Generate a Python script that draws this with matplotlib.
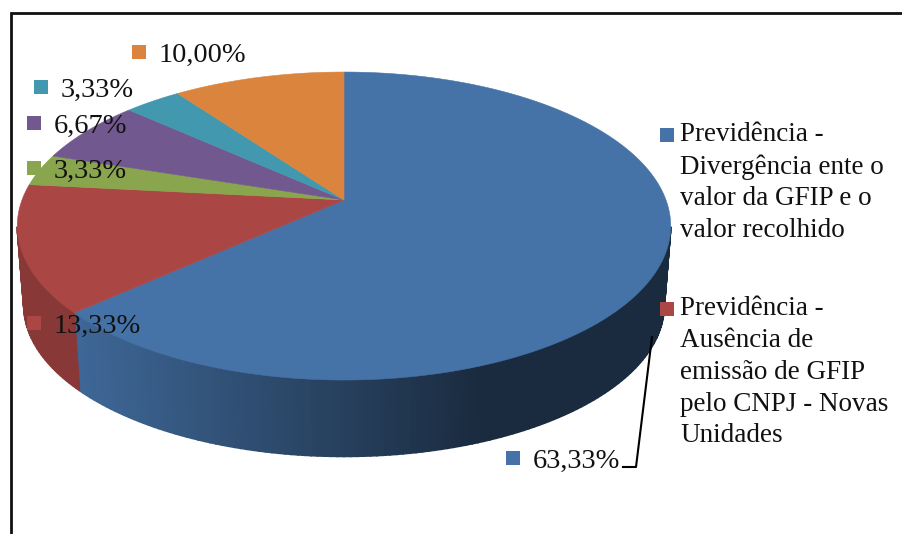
import numpy as np
import matplotlib
matplotlib.use('Agg')
import matplotlib.pyplot as plt

plt.rcParams['font.family'] = ['Liberation Serif', 'DejaVu Serif']

values = [63.33, 13.33, 3.33, 6.67, 3.33, 10.00]
colors = ['#4572A7', '#AA4643', '#89A54E', '#71588F', '#4198AF', '#DB843D']
labelMarks = [(513, 458), (34, 323), (34, 168), (34, 123), (41, 87), (139, 52)]
legendNames = ['Previdência -\nDivergência ente o\nvalor da GFIP e o\nvalor recolhido',
               'Previdência -\nAusência de\nemissão de GFIP\npelo CNPJ - Novas\nUnidades']
legendMarks = [(667, 135), (667, 309)]

# pie geometry in pixels, the tilt is a small perspective term
apexX, apexY = 344, 200
radX, radY, tilt = 322, 149.6, 0.169
depth, shrink = 80, 0.98


def rim(angle, scale=1.0, drop=0):
    t = np.radians(angle)
    d = 1 + tilt * np.cos(t)
    return (apexX + scale * radX * np.sin(t) / d,
            apexY + drop - scale * radY * np.cos(t) / d)


def wallColor(base, x):
    # side gets darker going right, flat dark after a point
    rgb = np.array(matplotlib.colors.to_rgb(base))
    if base == colors[1]:
        return rgb * 0.8
    f = 0.9 - 0.52 * np.clip((x - 78) / 400, 0, 1)
    return rgb * f


fig = plt.figure(figsize=(9.02, 5.34), dpi=100)
ax = fig.add_axes([0, 0, 1, 1])
ax.set_xlim(0, 902)
ax.set_ylim(534, 0)
ax.axis('off')

edges = np.concatenate([[0], np.cumsum(values) / np.sum(values) * 360])

# side wall, only the front half shows
for i in range(len(values)):
    a0, a1 = max(edges[i], 100), min(edges[i + 1], 260)
    if a1 <= a0:
        continue
    steps = np.arange(a0, a1 + 1, 1)
    for s0, s1 in zip(steps[:-1], steps[1:]):
        s1 = min(s1, a1)
        x0, y0 = rim(s0)
        x1, y1 = rim(s1)
        x2, y2 = rim(s1, shrink, depth)
        x3, y3 = rim(s0, shrink, depth)
        c = wallColor(colors[i], (x0 + x1) / 2)
        ax.fill([x0, x1, x2, x3], [y0, y1, y2, y3], color=c, lw=1.2)

# top face
for i in range(len(values)):
    ang = np.linspace(edges[i], edges[i + 1], 200)
    xs, ys = rim(ang)
    ax.fill(np.r_[apexX, xs], np.r_[apexY, ys], color=colors[i], lw=0.4)

# frame, only top and left are in the picture
ax.plot([11, 11, 902], [534, 13, 13], color='#111111', lw=2, solid_joinstyle='miter')

# leader line for the big slice
ax.plot([623, 636, 652], [467, 467, 337], color='black', lw=1.5)

for v, c, (mx, my) in zip(values, colors, labelMarks):
    ax.plot(mx, my, 's', color=c, ms=10, mew=0)
    txt = f'{v:.2f}'.replace('.', ',') + '%'
    ax.text(mx + 20, my + 3, txt, fontsize=20.5, va='center', ha='left', color='#111111')

for name, c, (mx, my) in zip(legendNames, colors, legendMarks):
    ax.plot(mx, my, 's', color=c, ms=10, mew=0)
    ax.text(mx + 13, my - 13, name, fontsize=19.5, va='top', ha='left',
            linespacing=1.36, color='#111111')

fig.savefig('out.png', dpi=100)
